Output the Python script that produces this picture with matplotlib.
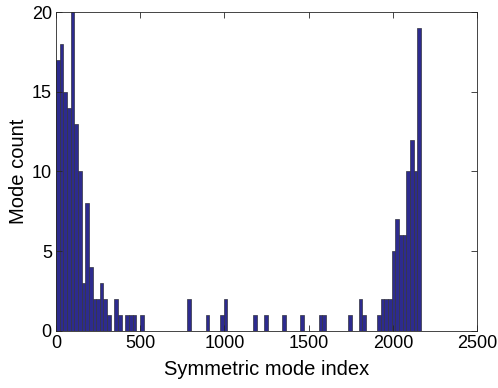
import numpy as np
import matplotlib.pyplot as plt

# histogram counts, 100 bins over the mode index range
counts = [17, 18, 15, 14, 20, 13, 10, 3, 8, 4,
          2, 2, 3, 2, 1, 0, 2, 1, 0, 1,
          1, 1, 0, 1, 0, 0, 0, 0, 0, 0,
          0, 0, 0, 0, 0, 0, 2, 0, 0, 0,
          0, 1, 0, 0, 0, 1, 2, 0, 0, 0,
          0, 0, 0, 0, 1, 0, 0, 1, 0, 0,
          0, 0, 1, 0, 0, 0, 0, 1, 0, 0,
          0, 0, 1, 1, 0, 0, 0, 0, 0, 0,
          1, 0, 0, 2, 1, 0, 0, 0, 1, 2,
          2, 2, 5, 7, 6, 6, 10, 12, 10, 19]
idx_min = 0
idx_max = 2166
xticks = [0, 500, 1000, 1500, 2000, 2500]
yticks = [0, 5, 10, 15, 20]

plt.rcParams['font.family'] = ['Liberation Sans', 'DejaVu Sans']

edges = np.linspace(idx_min, idx_max, len(counts) + 1)
width = edges[1] - edges[0]

fig = plt.figure(figsize=(4.98, 3.88), dpi=100)
ax = fig.add_axes([0.1125, 0.147, 0.8455, 0.822])

ax.bar(edges[:-1], counts, width=width, align='edge',
       color='#2d2b8e', edgecolor='#333340', linewidth=0.5)

ax.set_xlim(0, 2500)
ax.set_ylim(0, 20)
ax.set_xticks(xticks)
ax.set_yticks(yticks)
ax.set_xlabel('Symmetric mode index', fontsize=14.5, labelpad=6)
ax.set_ylabel('Mode count', fontsize=14.5, labelpad=3)
ax.tick_params(direction='in', top=True, right=True, labelsize=13,
               length=4, width=0.6, color='#262626', pad=3)
for s in ax.spines.values():
    s.set_linewidth(0.6)
    s.set_color('#262626')

fig.savefig('out.png', dpi=100)
